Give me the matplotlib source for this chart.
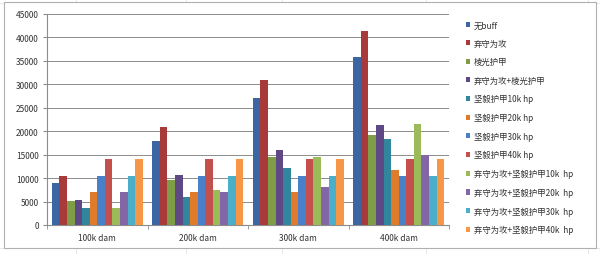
import numpy as np
import matplotlib.pyplot as plt
from matplotlib.patches import Rectangle
from matplotlib.lines import Line2D

plt.rcParams['font.family'] = ['Noto Sans CJK SC', 'DejaVu Sans']

categories = ["100k dam", "200k dam", "300k dam", "400k dam"]
series_names = [
    "无buff", "弃守为攻", "棱光护甲", "弃守为攻+棱光护甲",
    "坚毅护甲10k hp", "坚毅护甲20k hp", "坚毅护甲30k hp", "坚毅护甲40k hp",
    "弃守为攻+坚毅护甲10k  hp", "弃守为攻+坚毅护甲20k  hp",
    "弃守为攻+坚毅护甲30k  hp", "弃守为攻+坚毅护甲40k  hp",
]
# values per series, one entry per category
values = [
    [9000, 18000, 27000, 35800],
    [10500, 20800, 31000, 41400],
    [5100, 9600, 14400, 19300],
    [5400, 10700, 16000, 21400],
    [3600, 5900, 12200, 18300],
    [7000, 7000, 7000, 11800],
    [10500, 10500, 10500, 10500],
    [14000, 14000, 14000, 14000],
    [3600, 7500, 14600, 21500],
    [7000, 7000, 8000, 15000],
    [10500, 10500, 10500, 10500],
    [14000, 14000, 14000, 14000],
]
colors = [
    "#3c66a3", "#a83b39", "#7f9c46", "#5f4886", "#31869e", "#e07b2b",
    "#4a7fca", "#c4504d", "#9bbb59", "#8266a6", "#4bafca", "#f79646",
]

fig = plt.figure(figsize=(6, 2.55), dpi=100)

# faint spreadsheet grid behind the chart
for x in [0.127, 0.31, 0.47, 0.71, 0.98]:
    fig.add_artist(Line2D([x, x], [0, 1], color="#e4e4e4", lw=0.6, zorder=0))
for y in [0.025, 0.985]:
    fig.add_artist(Line2D([0, 1], [y, y], color="#e4e4e4", lw=0.6, zorder=0))

# chart frame
fig.add_artist(Rectangle((0.006, 0.025), 0.988, 0.962, transform=fig.transFigure,
                         fill=True, facecolor="white", edgecolor="#b0b0b0", lw=0.8, zorder=0.5))

ax = fig.add_axes([47 / 600, 1 - 226 / 255, (449 - 47) / 600, (226 - 15) / 255])
ax.set_zorder(1)

n = len(series_names)
x = np.arange(len(categories))
group_w = 0.905
bw = group_w / n
for i, (name, vals, c) in enumerate(zip(series_names, values, colors)):
    ax.bar(x - group_w / 2 + bw * (i + 0.5), vals, width=bw, color=c, label=name,
           zorder=3, linewidth=0)

ax.set_xlim(-0.5, len(categories) - 0.5)
ax.set_ylim(0, 45000)
ax.set_yticks(np.arange(0, 45001, 5000))
ax.yaxis.grid(True, color="#8c8c8c", lw=0.7)
ax.set_axisbelow(True)
ax.set_xticks(x)
ax.set_xticklabels(categories)
ax.set_xticks(np.arange(-0.5, len(categories), 1), minor=True)
ax.tick_params(axis='x', which='major', length=0, pad=6, labelsize=6, labelcolor="#333333")
ax.tick_params(axis='x', which='minor', length=3, color="#8c8c8c")
ax.tick_params(axis='y', length=3, color="#8c8c8c", labelsize=6, pad=3, labelcolor="#333333")
for s in ["top", "right"]:
    ax.spines[s].set_visible(False)
ax.spines["left"].set_color("#8c8c8c")
ax.spines["bottom"].set_color("#8c8c8c")

leg = fig.legend(loc="upper left", bbox_to_anchor=(458 / 600, 1 - 14 / 255),
                 frameon=False, fontsize=6, handlelength=0.55, handleheight=0.55,
                 handletextpad=0.45, labelspacing=1.12, labelcolor="#333333")

plt.savefig("out.png", dpi=100)
